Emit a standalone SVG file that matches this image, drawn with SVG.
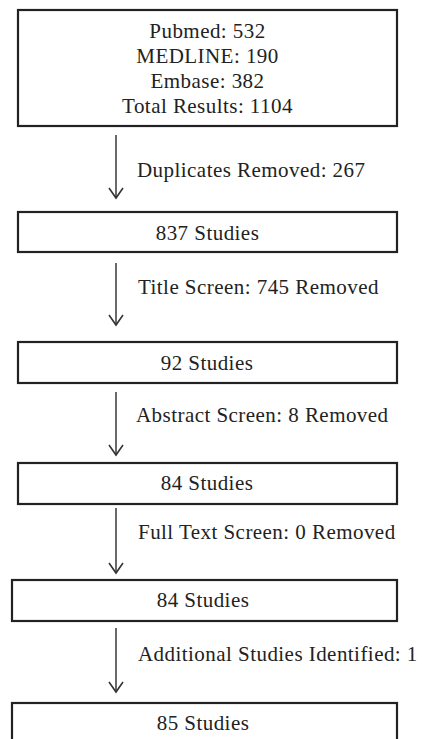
<svg xmlns="http://www.w3.org/2000/svg" width="424" height="739" viewBox="0 0 424 739">
<defs>
<marker id="ah" markerWidth="24" markerHeight="24" viewBox="-12 -12 24 24" refX="0" refY="0" markerUnits="userSpaceOnUse" orient="auto">
<path d="M-10,-7 L0,0 L-10,7" fill="none" stroke="#333" stroke-width="1.6"/>
</marker>
</defs>
<style>
.box{fill:#fff;stroke:#222;stroke-width:2.2}
.t{font-family:"Liberation Serif","DejaVu Serif",serif;font-size:21px;letter-spacing:0.45px;fill:#222}
.c{text-anchor:middle}
.arr{stroke:#444;stroke-width:1.6;fill:none}
</style>
<rect width="424" height="739" fill="#fff"/>
<g id="n1">
<rect class="box" x="18" y="10" width="379" height="116"/>
<text class="t c" x="207.5" y="38">Pubmed: 532</text>
<text class="t c" x="207.5" y="63">MEDLINE: 190</text>
<text class="t c" x="207.5" y="88">Embase: 382</text>
<text class="t c" x="207.5" y="113">Total Results: 1104</text>
</g>
<g id="n2">
<rect class="box" x="18" y="212" width="379" height="40"/>
<text class="t c" x="207.5" y="240">837 Studies</text>
</g>
<g id="n3">
<rect class="box" x="18" y="342" width="379" height="41"/>
<text class="t c" x="207" y="370">92 Studies</text>
</g>
<g id="n4">
<rect class="box" x="18" y="463" width="379" height="41"/>
<text class="t c" x="207" y="490">84 Studies</text>
</g>
<g id="n5">
<rect class="box" x="12" y="580" width="385" height="41"/>
<text class="t c" x="203" y="607">84 Studies</text>
</g>
<g id="n6">
<rect class="box" x="12" y="703" width="385" height="60"/>
<text class="t c" x="203" y="730">85 Studies</text>
</g>
<g id="connectors">
<line class="arr" x1="116" y1="135" x2="116" y2="198" marker-end="url(#ah)"/>
<line class="arr" x1="116" y1="263" x2="116" y2="325" marker-end="url(#ah)"/>
<line class="arr" x1="116" y1="392" x2="116" y2="455" marker-end="url(#ah)"/>
<line class="arr" x1="116" y1="508" x2="116" y2="573" marker-end="url(#ah)"/>
<line class="arr" x1="116" y1="628" x2="116" y2="692" marker-end="url(#ah)"/>
<text class="t" x="137" y="177">Duplicates Removed: 267</text>
<text class="t" x="138" y="294">Title Screen: 745 Removed</text>
<text class="t" x="136" y="422">Abstract Screen: 8 Removed</text>
<text class="t" x="138" y="539">Full Text Screen: 0 Removed</text>
<text class="t" x="138" y="661">Additional Studies Identified: 1</text>
</g>
</svg>
